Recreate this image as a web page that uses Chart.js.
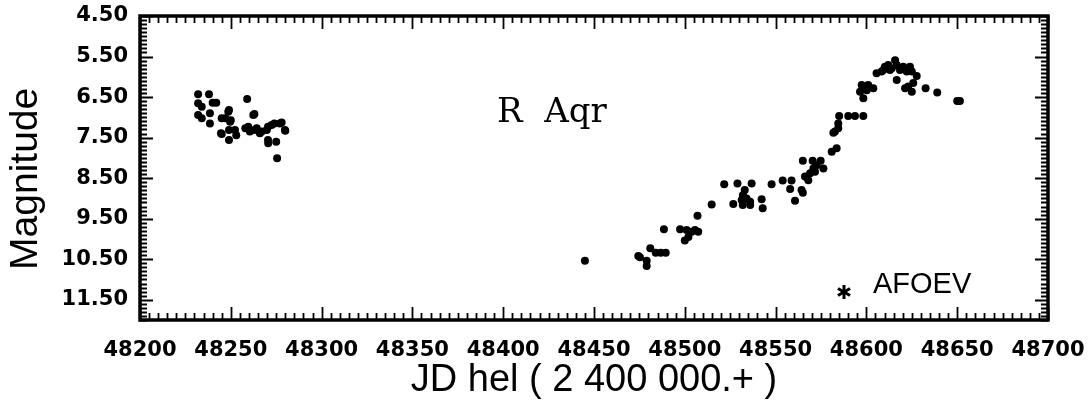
<!DOCTYPE html>
<html>
<head>
<meta charset="utf-8">
<script src="https://cdn.jsdelivr.net/npm/chart.js@4.4.1/dist/chart.umd.min.js"></script>
<style>
	body { margin: 0; background: #fff; }
	canvas { display: block; }
</style>
</head>
<body>
<canvas id="lienzo" width="1090" height="403"></canvas>
<script>
// R Aqr light curve, AFOEV visual estimates
const jdLeft = [48232, 48238, 48232, 48234, 48240, 48242, 48232, 48234, 48238.5, 48238.5,
	48249, 48245, 48250, 48259, 48263, 48245, 48249, 48249, 48253, 48258,
	48260.5, 48263, 48266, 48270.5, 48274, 48277, 48280, 48270.5, 48275, 48275.5,
	48248.6, 48247, 48249.6, 48262.4, 48244.6, 48252.3, 48259.6, 48264.3, 48267, 48269.8,
	48272.5, 48278, 48279.8, 48270.6];
const magLeft = [6.43, 6.43, 6.65, 6.74, 6.64, 6.64, 6.94, 7.02, 6.90, 7.15,
	6.82, 7.02, 7.07, 6.55, 6.92, 7.41, 7.56, 7.31, 7.44, 7.27,
	7.35, 7.31, 7.39, 7.23, 7.15, 7.15, 7.33, 7.56, 7.60, 8.01,
	6.86, 7.02, 7.11, 6.94, 7.39, 7.31, 7.23, 7.27, 7.35, 7.31,
	7.19, 7.13, 7.31, 7.64];

const jdRight = [48445, 48474.4, 48475.3, 48479, 48479, 48481, 48484, 48486.7, 48489.5, 48488.5,
	48497.4, 48500, 48502, 48503.8, 48505.6, 48507.4, 48501, 48507, 48514.8, 48521.7,
	48529, 48536.8, 48533, 48532, 48534, 48531.3, 48536, 48526.7, 48531.9, 48536,
	48542.3, 48542.9, 48547.8, 48553.9, 48558.8, 48558, 48564.3, 48565, 48560.7, 48565,
	48570.4, 48574.8, 48572.6, 48570.8, 48569, 48566.2, 48568, 48571.7, 48576.3, 48580.9,
	48583.6, 48582.7, 48581.8, 48584.5, 48584.5, 48585, 48590, 48593.7, 48598.3, 48596.5,
	48598.3, 48600.2, 48603.8, 48597.4, 48601, 48605.6, 48609.3, 48613, 48616.7, 48621.3,
	48608.4, 48610.2, 48612, 48614, 48615.8, 48616.7, 48618.5, 48620.3, 48622.2, 48624,
	48625, 48627.7, 48623, 48625, 48625.8, 48632.6, 48639, 48650, 48651.5];
const magRight = [10.54, 10.42, 10.45, 10.54, 10.67, 10.23, 10.34, 10.34, 10.34, 9.76,
	9.76, 10.04, 9.95, 9.82, 9.78, 9.82, 9.78, 9.43, 9.15, 8.65,
	8.63, 8.63, 8.79, 8.92, 9.00, 9.04, 9.08, 9.14, 9.16, 9.16,
	9.02, 9.24, 8.65, 8.56, 8.56, 8.77, 8.79, 8.86, 9.06, 8.07,
	8.07, 8.07, 8.18, 8.26, 8.38, 8.46, 8.55, 8.34, 8.26, 7.85,
	7.76, 7.35, 7.38, 7.27, 7.15, 6.97, 6.97, 6.97, 6.97, 6.37,
	6.53, 6.33, 6.28, 6.20, 6.20, 5.91, 5.83, 5.83, 6.08, 6.28,
	5.87, 5.75, 5.71, 5.79, 5.59, 5.71, 5.83, 5.75, 5.87, 5.75,
	5.87, 5.98, 6.24, 6.37, 6.15, 6.28, 6.39, 6.60, 6.60];

const xTicks = [48200, 48250, 48300, 48350, 48400, 48450, 48500, 48550, 48600, 48650, 48700];
const yTicks = [4.5, 5.5, 6.5, 7.5, 8.5, 9.5, 10.5, 11.5];

const starName = 'R  Aqr';
const sourceName = 'AFOEV';

let puntos = [];
jdLeft.forEach((jd, i) => { puntos.push({ x: jd, y: magLeft[i] }); });
jdRight.forEach((jd, i) => { puntos.push({ x: jd, y: magRight[i] }); });

const tickFont = { family: '"DejaVu Sans"', weight: 'bold', size: 21 };

// box round the plot, ticks pointing inward, plus the two labels
const marco = {
	id: 'marco',
	afterDraw(chart) {
		const ctx = chart.ctx;
		const a = chart.chartArea;
		const sx = chart.scales.x, sy = chart.scales.y;
		ctx.save();
		ctx.strokeStyle = '#000';

		ctx.lineWidth = 1.8;
		for (let v = 48200; v <= 48700; v += 5) {
			const px = Math.round(sx.getPixelForValue(v)) + 0.5;
			const len = (v % 50 === 0) ? 13 : 7;
			ctx.beginPath();
			ctx.moveTo(px, a.bottom); ctx.lineTo(px, a.bottom - len);
			ctx.moveTo(px, a.top); ctx.lineTo(px, a.top + len);
			ctx.stroke();
		}
		ctx.lineWidth = 2.2;
		for (let k = 45; k <= 120; k++) {
			const py = Math.round(sy.getPixelForValue(k / 10)) + 0.5;
			const len = (k % 10 === 5) ? 13 : 7;
			ctx.beginPath();
			ctx.moveTo(a.left, py); ctx.lineTo(a.left + len, py);
			ctx.moveTo(a.right, py); ctx.lineTo(a.right - len, py);
			ctx.stroke();
		}

		ctx.lineWidth = 3.5;
		ctx.strokeRect(a.left, a.top, a.right - a.left, a.bottom - a.top);

		ctx.fillStyle = '#000';
		ctx.font = '34px "DejaVu Serif"';
		ctx.textBaseline = 'alphabetic';
		ctx.textAlign = 'left';
		ctx.fillText(starName, 497, 122);

		ctx.font = '29px "Liberation Sans"';
		ctx.fillText(sourceName, 873, 293);

		// asterisk marker of the legend
		ctx.lineWidth = 3;
		const cx = 844, cy = 292, r = 7;
		for (let i = 0; i < 3; i++) {
			const ang = Math.PI / 2 + i * Math.PI / 3;
			ctx.beginPath();
			ctx.moveTo(cx - r * Math.cos(ang), cy - r * Math.sin(ang));
			ctx.lineTo(cx + r * Math.cos(ang), cy + r * Math.sin(ang));
			ctx.stroke();
		}
		ctx.restore();
	}
};

const chart = new Chart(document.getElementById('lienzo'), {
	type: 'scatter',
	data: {
		datasets: [{
			data: puntos,
			pointStyle: 'circle',
			pointRadius: 4,
			pointHoverRadius: 4,
			backgroundColor: '#000',
			borderWidth: 0
		}]
	},
	options: {
		responsive: false,
		animation: false,
		layout: { padding: { top: 16, right: 42, left: 0, bottom: 0 } },
		plugins: {
			legend: { display: false },
			tooltip: { enabled: false }
		},
		scales: {
			x: {
				type: 'linear',
				min: 48200,
				max: 48700,
				afterFit: s => { s.height = 83; s.paddingLeft = 0; s.paddingRight = 0; },
				afterBuildTicks: s => { s.ticks = xTicks.map(v => ({ value: v })); },
				grid: { display: false, drawTicks: false },
				border: { display: false },
				ticks: {
					padding: 18,
					color: '#000',
					font: tickFont,
					maxRotation: 0,
					autoSkip: false,
					callback: v => String(v)
				},
				title: {
					display: true,
					text: 'JD hel ( 2 400 000.+ )',
					color: '#000',
					font: { family: '"Liberation Sans"', size: 38 },
					padding: { top: 0, bottom: 0 }
				}
			},
			y: {
				type: 'linear',
				reverse: true,
				min: 4.5,
				max: 12,
				afterFit: s => { s.width = 140; s.paddingTop = 0; s.paddingBottom = 0; },
				afterBuildTicks: s => { s.ticks = yTicks.map(v => ({ value: v })); },
				grid: { display: false, drawTicks: false },
				border: { display: false },
				ticks: {
					padding: 12,
					color: '#000',
					font: tickFont,
					autoSkip: false,
					callback: v => v.toFixed(2)
				},
				title: {
					display: true,
					text: 'Magnitude  ',
					color: '#000',
					font: { family: '"Liberation Sans"', size: 39 },
					padding: { top: 3, bottom: 0 }
				}
			}
		}
	},
	plugins: [marco]
});
</script>
</body>
</html>
